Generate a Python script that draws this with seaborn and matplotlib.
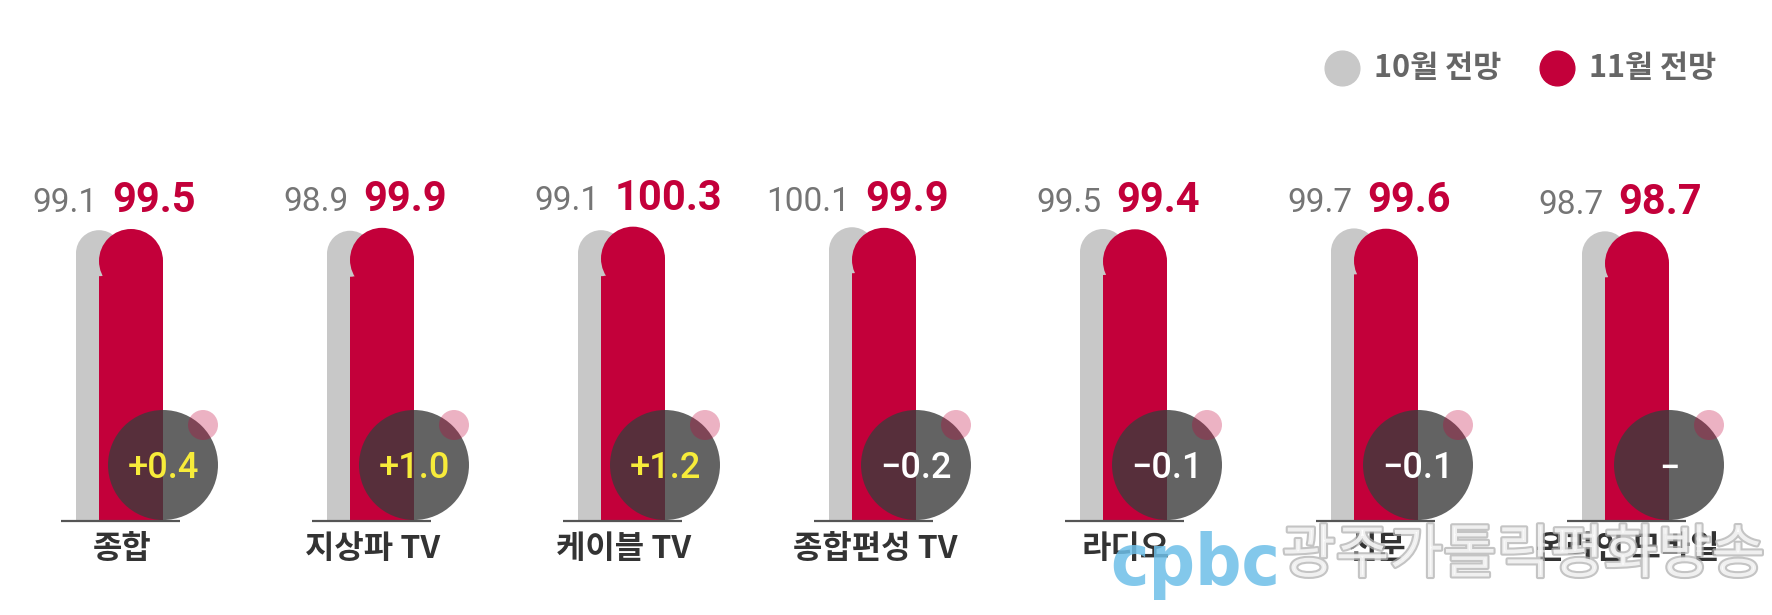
import matplotlib
matplotlib.use("Agg")
import matplotlib.pyplot as plt
import matplotlib.patheffects as pe
from matplotlib.patches import Ellipse
import seaborn as sns

# data
categories = ["종합", "지상파 TV", "케이블 TV", "종합편성 TV", "라디오", "신문", "온라인 모바일"]
oct_vals = [99.1, 98.9, 99.1, 100.1, 99.5, 99.7, 98.7]
nov_vals = [99.5, 99.9, 100.3, 99.9, 99.4, 99.6, 98.7]
legend_labels = ["10월 전망", "11월 전망"]

GRAY = "#c8c8c8"
RED = "#c3003a"
W, H = 1772, 615

sns.set_theme(style="white")
plt.rcParams["font.family"] = ["Roboto", "Noto Sans CJK KR", "DejaVu Sans"]

fig = plt.figure(figsize=(W / 100, H / 100), dpi=100)
ax = fig.add_axes([0, 0, 1, 1])

# pixel scale: 251 px per category, ~2.935 px per index point
PX_X = 251.0
PX_Y = 292.0 / 99.5
base_px = 94  # baseline height from the bottom
x0_px = 120.5  # centre of first group

sns.barplot(x=categories, y=oct_vals, color=GRAY, width=46 / PX_X,
            saturation=1, errorbar=None, ax=ax)
n = len(categories)
gray_bars = list(ax.patches[:n])
sns.barplot(x=categories, y=nov_vals, color=RED, width=64 / PX_X,
            saturation=1, errorbar=None, ax=ax)
red_bars = list(ax.patches[n:2 * n])

ax.set_xlim(-x0_px / PX_X, (W - x0_px) / PX_X)
ax.set_ylim(-base_px / PX_Y, (H - base_px) / PX_Y)
ax.axis("off")


def dx(px):
    return px / PX_X


def dy(px):
    return px / PX_Y


# shift the bars and give them round tops
for bars, off in [(gray_bars, -21.5), (red_bars, 10.5)]:
    for p in bars:
        p.set_x(p.get_x() + dx(off))
        p.set_edgecolor("none")
        p.set_linewidth(0)
        p.set_snap(False)
        w = p.get_width()
        h = p.get_height()
        ry = dy(w * PX_X / 2)
        p.set_height(h - ry + dy(1))
        ax.add_patch(Ellipse((p.get_x() + w / 2, h - ry), w, 2 * ry,
                             facecolor=p.get_facecolor(), edgecolor="none",
                             linewidth=0, zorder=p.get_zorder()))

for i, (g, r) in enumerate(zip(oct_vals, nov_vals)):
    # baseline
    ax.plot([i - dx(59.5), i + dx(59.5)], [0, 0], color="#555555", lw=1.6,
            zorder=3, solid_capstyle="butt")
    # value labels
    ty = r + dy(17)
    ax.text(i - dx(23), ty, f"{g:.1f}", ha="right", va="baseline",
            fontsize=24, color="#757575", fontweight="normal")
    ax.text(i - dx(8), ty, f"{r:.1f}", ha="left", va="baseline",
            fontsize=30, color=RED, fontweight="bold")
    # difference bubble
    cx, cy = i + dx(42.5), dy(56)
    ax.add_patch(Ellipse((cx, cy), dx(110), dy(110), facecolor="#3c3c3c",
                         alpha=0.8, edgecolor="none", zorder=4))
    ax.add_patch(Ellipse((i + dx(82.5), dy(96)), dx(30), dy(30),
                         facecolor=RED, alpha=0.3, edgecolor="none", zorder=5))
    d = round(r - g, 1)
    if d > 0:
        lab, col = f"+{d:.1f}", "#f7ec3a"
    elif d < 0:
        lab, col = f"\u2212{abs(d):.1f}", "white"
    else:
        lab, col = "\u2212", "white"
    ax.text(cx, cy - dy(13.5), lab, ha="center", va="baseline", fontsize=26,
            color=col, fontweight="medium", zorder=6)
    # category label
    ax.text(i + dx(1.5), dy(521 - 549), categories[i], ha="center",
            va="center", fontsize=23, color="#333333", fontweight="bold",
            family=["Noto Sans CJK KR", "DejaVu Sans"])

# legend
for (mx, tx), lab, col in zip([(1342, 1374), (1557, 1589)], legend_labels, [GRAY, RED]):
    fig.lines.append(plt.Line2D([mx / W], [1 - 68 / H], marker="o", markersize=25,
                                color=col, transform=fig.transFigure))
    fig.text(tx / W, 1 - 68 / H, lab, ha="left", va="center", fontsize=22,
             color="#666666", fontweight="bold",
             family=["Noto Sans CJK KR", "DejaVu Sans"])

# watermark
fig.text(1110 / W, 1 - 585 / H, "cpbc", ha="left", va="baseline", fontsize=52,
         color="#6dbfe8", alpha=0.85, fontweight="bold", fontstretch="condensed",
         family=["DejaVu Sans"])
fig.text(1282 / W, 1 - 556 / H, "광주가톨릭평화방송", ha="left", va="center",
         fontsize=42, color="white", alpha=0.75,
         family=["Noto Sans CJK KR", "DejaVu Sans"],
         path_effects=[pe.withStroke(linewidth=3, foreground="#b0b0b0")])

fig.savefig("out.png", dpi=100, facecolor="white")
